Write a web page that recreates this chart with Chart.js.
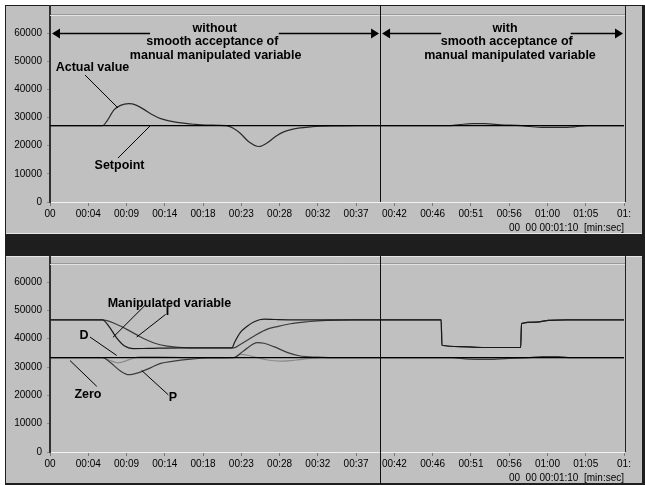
<!DOCTYPE html>
<html><head><meta charset="utf-8">
<script src="https://cdn.jsdelivr.net/npm/chart.js@4/dist/chart.umd.min.js"></script>
<style>
html,body{margin:0;padding:0;background:#fff;}
#wrap{position:relative;width:645px;height:485px;overflow:hidden;background:#fff;}
.frame{position:absolute;left:5px;top:5px;width:640px;height:480px;background:#1e1e1e;}
.panel{position:absolute;left:6px;width:636px;background:#c0c0c0;}
#p1{top:6px;height:227px;border-bottom:1px solid #e6e6e6;}
#p2{top:256px;height:226px;border-top:1px solid #e6e6e6;}
canvas{position:absolute;left:0;}
#c1{top:0;}
#c2{top:250px;}
</style></head><body>
<div id="wrap">
<div class="frame"></div>
<div class="panel" id="p1"></div>
<div class="panel" id="p2"></div>
<canvas id="c1" width="645" height="235"></canvas>
<canvas id="c2" width="645" height="235"></canvas>
</div>
<script>
// ---------- data ----------
const xTickValues = [0, 4.667, 9.333, 14, 18.667, 23.333, 28, 32.667, 37.333, 42, 46.667, 51.333, 56, 60.667, 65.333, 70];
const xTickLabels = ['00','00:04','00:09','00:14','00:18','00:23','00:28','00:32','00:37','00:42','00:46','00:51','00:56','01:00','01:05','01:'];
const yTickValues = [0, 10000, 20000, 30000, 40000, 50000, 60000];
const xAxisTitle = '00  00 00:01:10  [min:sec]';

// top chart
const setpointT = [0, 70];
const setpointV = [27100, 27100];
const actualT = [0, 6.4, 7.0, 7.8, 8.6, 9.6, 10.5, 11.5, 12.5, 13.5, 14.5, 15.5, 16.5, 17.5, 19, 21.5, 22.3, 23.2, 24.2, 25.5, 26.5, 27.5, 28.5, 29.5, 30.5, 31.5, 33, 35, 37.5, 48.5, 50, 51.5, 53, 55, 57.5, 58.5, 60, 62, 64, 65.5, 70];
const actualV = [27100, 27100, 29000, 32700, 34300, 34900, 34400, 32800, 31000, 29600, 28800, 28300, 27900, 27600, 27300, 27100, 26300, 24400, 21500, 19700, 21000, 23300, 24900, 25800, 26300, 26600, 26900, 27000, 27100, 27100, 27500, 27800, 27800, 27400, 27100, 26800, 26500, 26500, 26700, 27100, 27100];

// bottom chart
const zeroT = [0, 70];
const zeroV = [33300, 33300];
const mvT = [0, 6.4, 7.3, 8.1, 9.1, 10.1, 12, 16, 22.2, 22.5, 23.2, 24.0, 24.9, 26.1, 27.5, 30, 47.7, 47.8, 50, 53, 57.4, 57.5, 59.3, 60.8, 63, 70];
const mvV = [46700, 46700, 43900, 40400, 37400, 36500, 36600, 36800, 36800, 38700, 42200, 44300, 46000, 46900, 46800, 46700, 46700, 37700, 37200, 36900, 36900, 45400, 45900, 46500, 46700, 46700];
const iT = [0, 6.4, 8.1, 9.75, 11, 12.6, 14.3, 17, 22.4, 23.2, 24.9, 26.5, 27.7, 29.3, 31.4, 33.8, 37, 47.7, 47.8, 50, 53, 57.4, 57.5, 59.3, 60.8, 63, 70];
const iV = [46700, 46700, 45100, 42700, 40700, 38600, 37400, 36800, 36800, 38000, 41000, 43400, 44300, 45300, 46000, 46500, 46700, 46700, 37700, 37200, 36900, 36900, 45400, 45900, 46500, 46700, 46700];
const pT = [0, 6.4, 7.4, 8.6, 9.6, 11, 12.3, 13.5, 15.1, 16.8, 19.2, 22.4, 23.6, 25.3, 26.1, 27.3, 29, 30.5, 32.6, 35, 49, 51, 53.5, 56, 58.5, 60, 62, 63.5, 70];
const pV = [33300, 33300, 31500, 28600, 27300, 28200, 29800, 31300, 32100, 32700, 33200, 33300, 35700, 38600, 38400, 37200, 35100, 33900, 33500, 33300, 33300, 32800, 32700, 33100, 33300, 33700, 33700, 33300, 33300];
const dT = [0, 6.4, 7.2, 8.3, 9.75, 11, 13, 15, 17, 22.4, 23.2, 24.5, 26.5, 28.1, 29.8, 31.8, 34, 70];
const dV = [33300, 33300, 32500, 31500, 32700, 33700, 33700, 33500, 33300, 33300, 34500, 33900, 32500, 32100, 32400, 33100, 33300, 33300];

const dividerTime = 40.25;

// annotations (x in seconds, y in value units)
const topNotes = {
  panelTop: 5, dividerBottom: 'axis',
  arrows: [
    {y: 60000, x0: 0, x1: dividerTime, gap: [12.2, 27.9]},
    {y: 60000, x0: dividerTime, x1: 70, gap: [47.7, 63.5]}
  ],
  texts: [
    {t: 'without', x: 20.1, y: 61500},
    {t: 'smooth acceptance of', x: 19.8, y: 56800},
    {t: 'manual manipulated variable', x: 20.2, y: 52000},
    {t: 'with', x: 55.5, y: 61500},
    {t: 'smooth acceptance of', x: 55.7, y: 56800},
    {t: 'manual manipulated variable', x: 56.1, y: 52000},
    {t: 'Actual value', x: 5.18, y: 47600},
    {t: 'Setpoint', x: 8.48, y: 12800}
  ],
  leaders: [
    [4.27, 45100, 8.29, 33400],
    [8.29, 15600, 12.2, 27000]
  ]
};
const bottomNotes = {
  panelTop: 6, dividerBottom: 'canvas',
  arrows: [],
  texts: [
    {t: 'Manipulated variable', x: 14.57, y: 52600},
    {t: 'I', x: 14.33, y: 49700},
    {t: 'D', x: 4.15, y: 41200},
    {t: 'Zero', x: 4.63, y: 20200},
    {t: 'P', x: 15.0, y: 19200}
  ],
  leaders: [
    [11.59, 51800, 7.68, 40500],
    [14.1, 48600, 10.57, 40600],
    [4.88, 40600, 8.13, 34100],
    [5.7, 23200, 2.44, 32300],
    [14.43, 20200, 11.18, 28800]
  ]
};

// ---------- chart ----------
const FAMILY = '"Liberation Sans", Arial, sans-serif';
const zip = (t, v) => t.map((x, i) => ({x: x, y: v[i]}));

const notesPlugin = {
  id: 'notes',
  afterDraw(chart, args, opts) {
    const n = opts.notes; if (!n) return;
    const ctx = chart.ctx, xs = chart.scales.x, ys = chart.scales.y, a = chart.chartArea;
    const X = v => xs.getPixelForValue(v), Y = v => ys.getPixelForValue(v);
    ctx.save();
    // plot frame: top double line, right line, axis extension
    ctx.lineWidth = 1;
    ctx.strokeStyle = '#9a9a9a';
    ctx.beginPath(); ctx.moveTo(a.left, a.top - 0.5); ctx.lineTo(a.right + 1, a.top - 0.5); ctx.stroke();
    ctx.strokeStyle = '#e4e4e4';
    ctx.beginPath(); ctx.moveTo(a.left, a.top + 0.5); ctx.lineTo(a.right + 1, a.top + 0.5); ctx.stroke();
    ctx.strokeStyle = '#202020';
    ctx.beginPath(); ctx.moveTo(a.right + 1.5, n.panelTop); ctx.lineTo(a.right + 1.5, a.bottom); ctx.stroke();
    ctx.lineWidth = 2; ctx.strokeStyle = '#303030';
    ctx.beginPath(); ctx.moveTo(a.left, n.panelTop); ctx.lineTo(a.left, a.top); ctx.stroke();
    // divider
    ctx.lineWidth = 1; ctx.strokeStyle = '#101010';
    const dx = Math.round(X(dividerTime)) + 0.5;
    ctx.beginPath(); ctx.moveTo(dx, n.panelTop);
    ctx.lineTo(dx, n.dividerBottom === 'axis' ? a.bottom : chart.height); ctx.stroke();
    // arrows
    ctx.fillStyle = '#000'; ctx.strokeStyle = '#000'; ctx.lineWidth = 1.5;
    n.arrows.forEach(ar => {
      const y = Math.round(Y(ar.y)) + 0.5;
      const l = X(ar.x0) + 2, r = X(ar.x1) - 1;
      ctx.beginPath();
      ctx.moveTo(l + 4, y); ctx.lineTo(X(ar.gap[0]), y);
      ctx.moveTo(X(ar.gap[1]), y); ctx.lineTo(r - 4, y);
      ctx.stroke();
      ctx.beginPath(); ctx.moveTo(l, y); ctx.lineTo(l + 8, y - 5); ctx.lineTo(l + 8, y + 5); ctx.closePath(); ctx.fill();
      ctx.beginPath(); ctx.moveTo(r, y); ctx.lineTo(r - 8, y - 5); ctx.lineTo(r - 8, y + 5); ctx.closePath(); ctx.fill();
    });
    // leader lines
    ctx.lineWidth = 1; ctx.strokeStyle = '#000';
    n.leaders.forEach(l => {
      ctx.beginPath(); ctx.moveTo(X(l[0]), Y(l[1])); ctx.lineTo(X(l[2]), Y(l[3])); ctx.stroke();
    });
    // texts
    ctx.font = 'bold 12.5px ' + FAMILY;
    ctx.textAlign = 'center'; ctx.textBaseline = 'middle'; ctx.fillStyle = '#000';
    n.texts.forEach(t => ctx.fillText(t.t, X(t.x), Y(t.y)));
    ctx.restore();
  }
};

function scales(padTop) {
  return {
    x: {
      type: 'linear', min: 0, max: 70,
      afterBuildTicks: s => { s.ticks = xTickValues.map(v => ({value: v})); },
      afterFit: s => { s.height = 33; },
      ticks: {autoSkip: false, maxRotation: 0, padding: 2, color: '#000',
        font: {family: FAMILY, size: 10}, callback: (v, i) => xTickLabels[i]},
      grid: {drawOnChartArea: false, drawTicks: true, tickLength: 4, color: '#7a7a7a'},
      border: {display: true, color: '#f2f2f2', width: 1},
      title: {display: true, text: xAxisTitle, align: 'end', color: '#000',
        padding: {top: 0, bottom: 1}, font: {family: FAMILY, size: 10}}
    },
    y: {
      min: 0, max: 66400,
      afterBuildTicks: s => { s.ticks = yTickValues.map(v => ({value: v})); },
      afterFit: s => { s.width = 50; },
      ticks: {padding: 5, color: '#000', font: {family: FAMILY, size: 10}, callback: v => String(v)},
      grid: {drawOnChartArea: false, drawTicks: true, tickLength: 3, color: '#8a8a8a'},
      border: {display: true, color: '#303030', width: 2}
    }
  };
}

function ds(label, t, v, color, w) {
  return {label: label, data: zip(t, v), borderColor: color, borderWidth: w || 1.2,
    pointRadius: 0, fill: false, cubicInterpolationMode: 'monotone'};
}

function make(id, datasets, notes, padTop) {
  return new Chart(document.getElementById(id), {
    type: 'line',
    data: {datasets: datasets},
    options: {
      responsive: false, animation: false, devicePixelRatio: 1,
      layout: {padding: {top: padTop, right: 21, left: 0, bottom: 0}},
      plugins: {legend: {display: false}, tooltip: {enabled: false}, notes: {notes: notes}},
      scales: scales(padTop)
    },
    plugins: [notesPlugin]
  });
}

make('c1', [
  ds('Setpoint', setpointT, setpointV, '#000000', 1.2),
  ds('Actual value', actualT, actualV, '#2a2a2a', 1.2)
], topNotes, 15);

make('c2', [
  ds('Zero', zeroT, zeroV, '#000000', 1.2),
  ds('Manipulated variable', mvT, mvV, '#1a1a1a', 1.2),
  ds('I', iT, iV, '#3c3c3c', 1.2),
  ds('P', pT, pV, '#3c3c3c', 1.2),
  ds('D', dT, dV, '#8c8c8c', 1.2)
], bottomNotes, 14);
</script>
</body></html>
